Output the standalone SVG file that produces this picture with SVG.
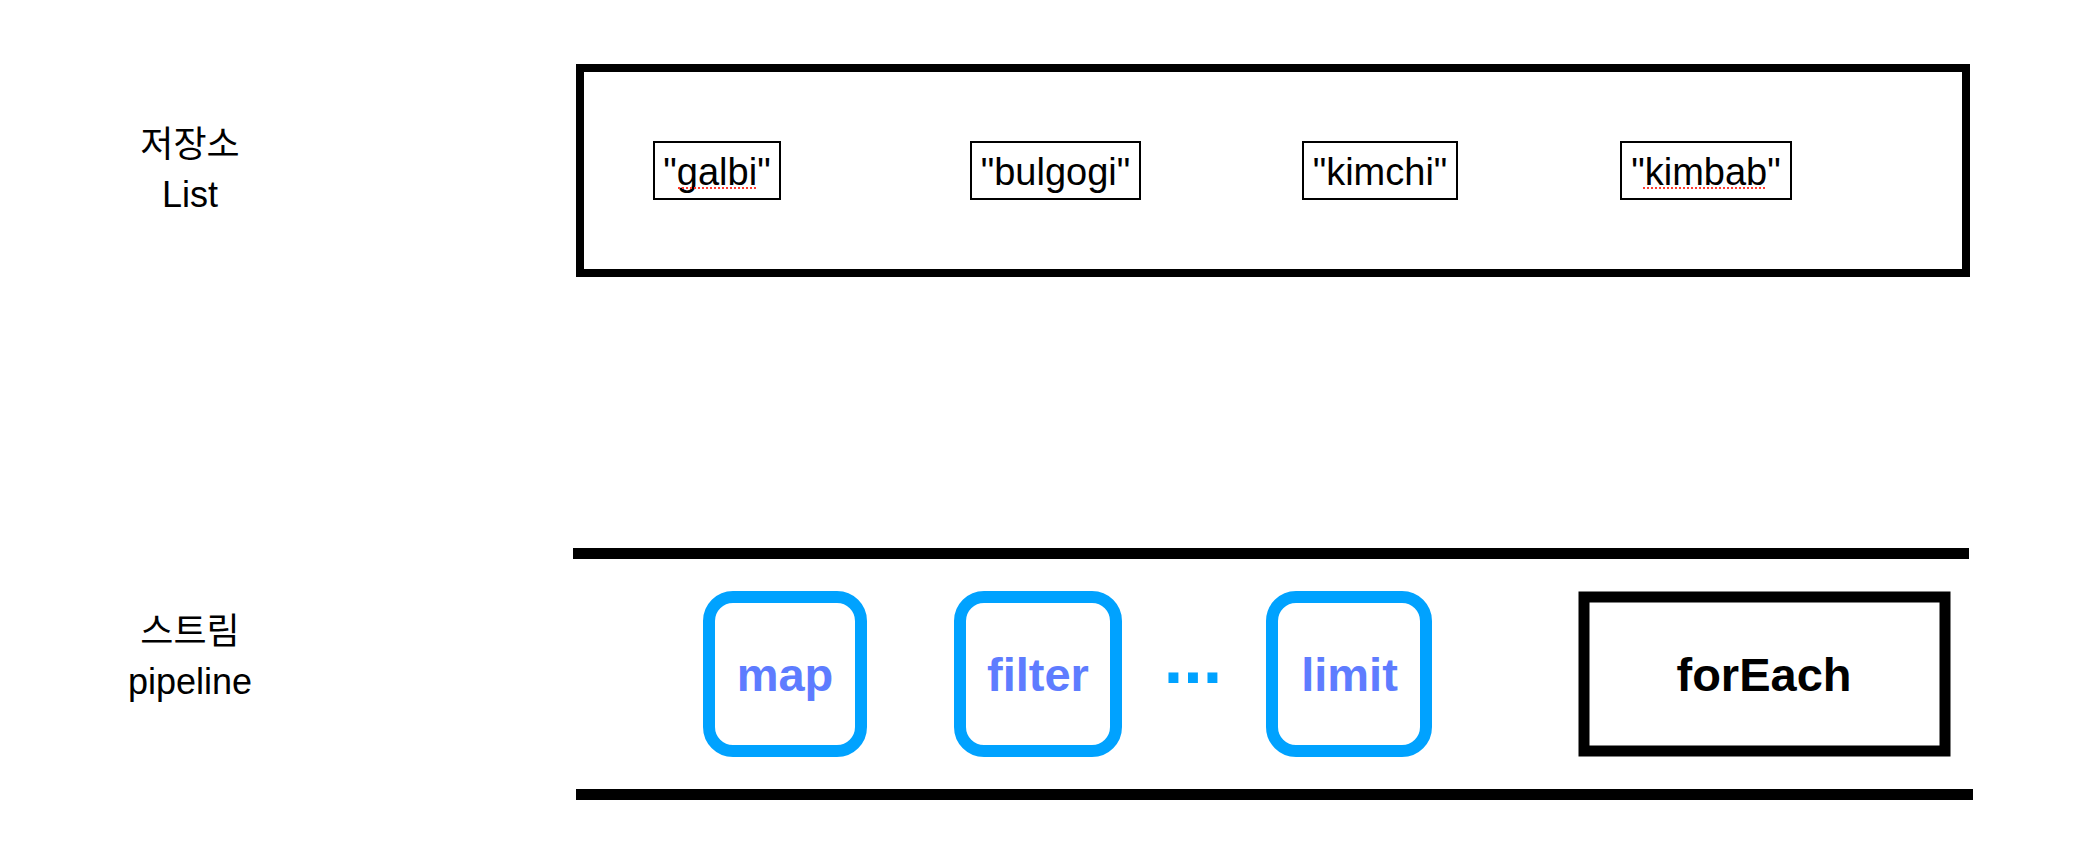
<svg xmlns="http://www.w3.org/2000/svg" width="2082" height="860" viewBox="0 0 2082 860">
<style>
.lbl{font-family:"Liberation Sans","Noto Sans CJK KR",sans-serif;font-size:36px;fill:#000;text-anchor:middle}
.item{fill:#fff;stroke:#000;stroke-width:2}
.itxt{font-family:"Liberation Sans",Arial,sans-serif;font-size:38px;fill:#000;text-anchor:middle}
.spell{stroke:#ff3b30;stroke-width:2;stroke-dasharray:2 2;fill:none}
.op{fill:#fff;stroke:#00a2ff;stroke-width:12}
.otxt{font-family:"Liberation Sans",Arial,sans-serif;font-size:47px;font-weight:bold;fill:#5e7cff;text-anchor:middle}
.pipe{stroke:#000;stroke-width:11;fill:none}
</style>
<rect width="2082" height="860" fill="#fff"/>
<g id="label-list">
<text class="lbl" x="190" y="157">저장소</text>
<text class="lbl" x="190" y="207">List</text>
</g>
<g id="label-stream">
<text class="lbl" x="190" y="644">스트림</text>
<text class="lbl" x="190" y="694">pipeline</text>
</g>
<g id="list">
<rect x="580" y="68" width="1386" height="205" fill="#fff" stroke="#000" stroke-width="8"/>
</g>
<g id="item-galbi">
<rect class="item" x="654" y="142" width="126" height="57"/>
<text class="itxt" x="717" y="185">"galbi"</text>
<line class="spell" x1="678" y1="188" x2="757" y2="188"/>
</g>
<g id="item-bulgogi">
<rect class="item" x="971" y="142" width="169" height="57"/>
<text class="itxt" x="1055.5" y="185">"bulgogi"</text>
</g>
<g id="item-kimchi">
<rect class="item" x="1303" y="142" width="154" height="57"/>
<text class="itxt" x="1380" y="185">"kimchi"</text>
</g>
<g id="item-kimbab">
<rect class="item" x="1621" y="142" width="170" height="57"/>
<text class="itxt" x="1706" y="185">"kimbab"</text>
<line class="spell" x1="1643" y1="188" x2="1767" y2="188"/>
</g>
<g id="pipeline">
<line class="pipe" x1="573" y1="553.5" x2="1969" y2="553.5"/>
<line class="pipe" x1="576" y1="794.5" x2="1973" y2="794.5"/>
</g>
<g id="op-map">
<rect class="op" x="709" y="597" width="152" height="154" rx="24" ry="24"/>
<text class="otxt" x="785" y="691">map</text>
</g>
<g id="op-filter">
<rect class="op" x="960" y="597" width="156" height="154" rx="24" ry="24"/>
<text class="otxt" x="1038" y="691">filter</text>
</g>
<g id="op-more">
<text x="1193" y="683" font-family="Liberation Sans,Arial,sans-serif" font-size="70" font-weight="bold" fill="#00a2ff" text-anchor="middle">...</text>
</g>
<g id="op-limit">
<rect class="op" x="1272" y="597" width="154" height="154" rx="24" ry="24"/>
<text class="otxt" x="1349.5" y="691">limit</text>
</g>
<g id="op-forEach">
<rect x="1584" y="597" width="361" height="154" fill="#fff" stroke="#000" stroke-width="11"/>
<text class="otxt" x="1764" y="691" style="fill:#000">forEach</text>
</g>
</svg>
